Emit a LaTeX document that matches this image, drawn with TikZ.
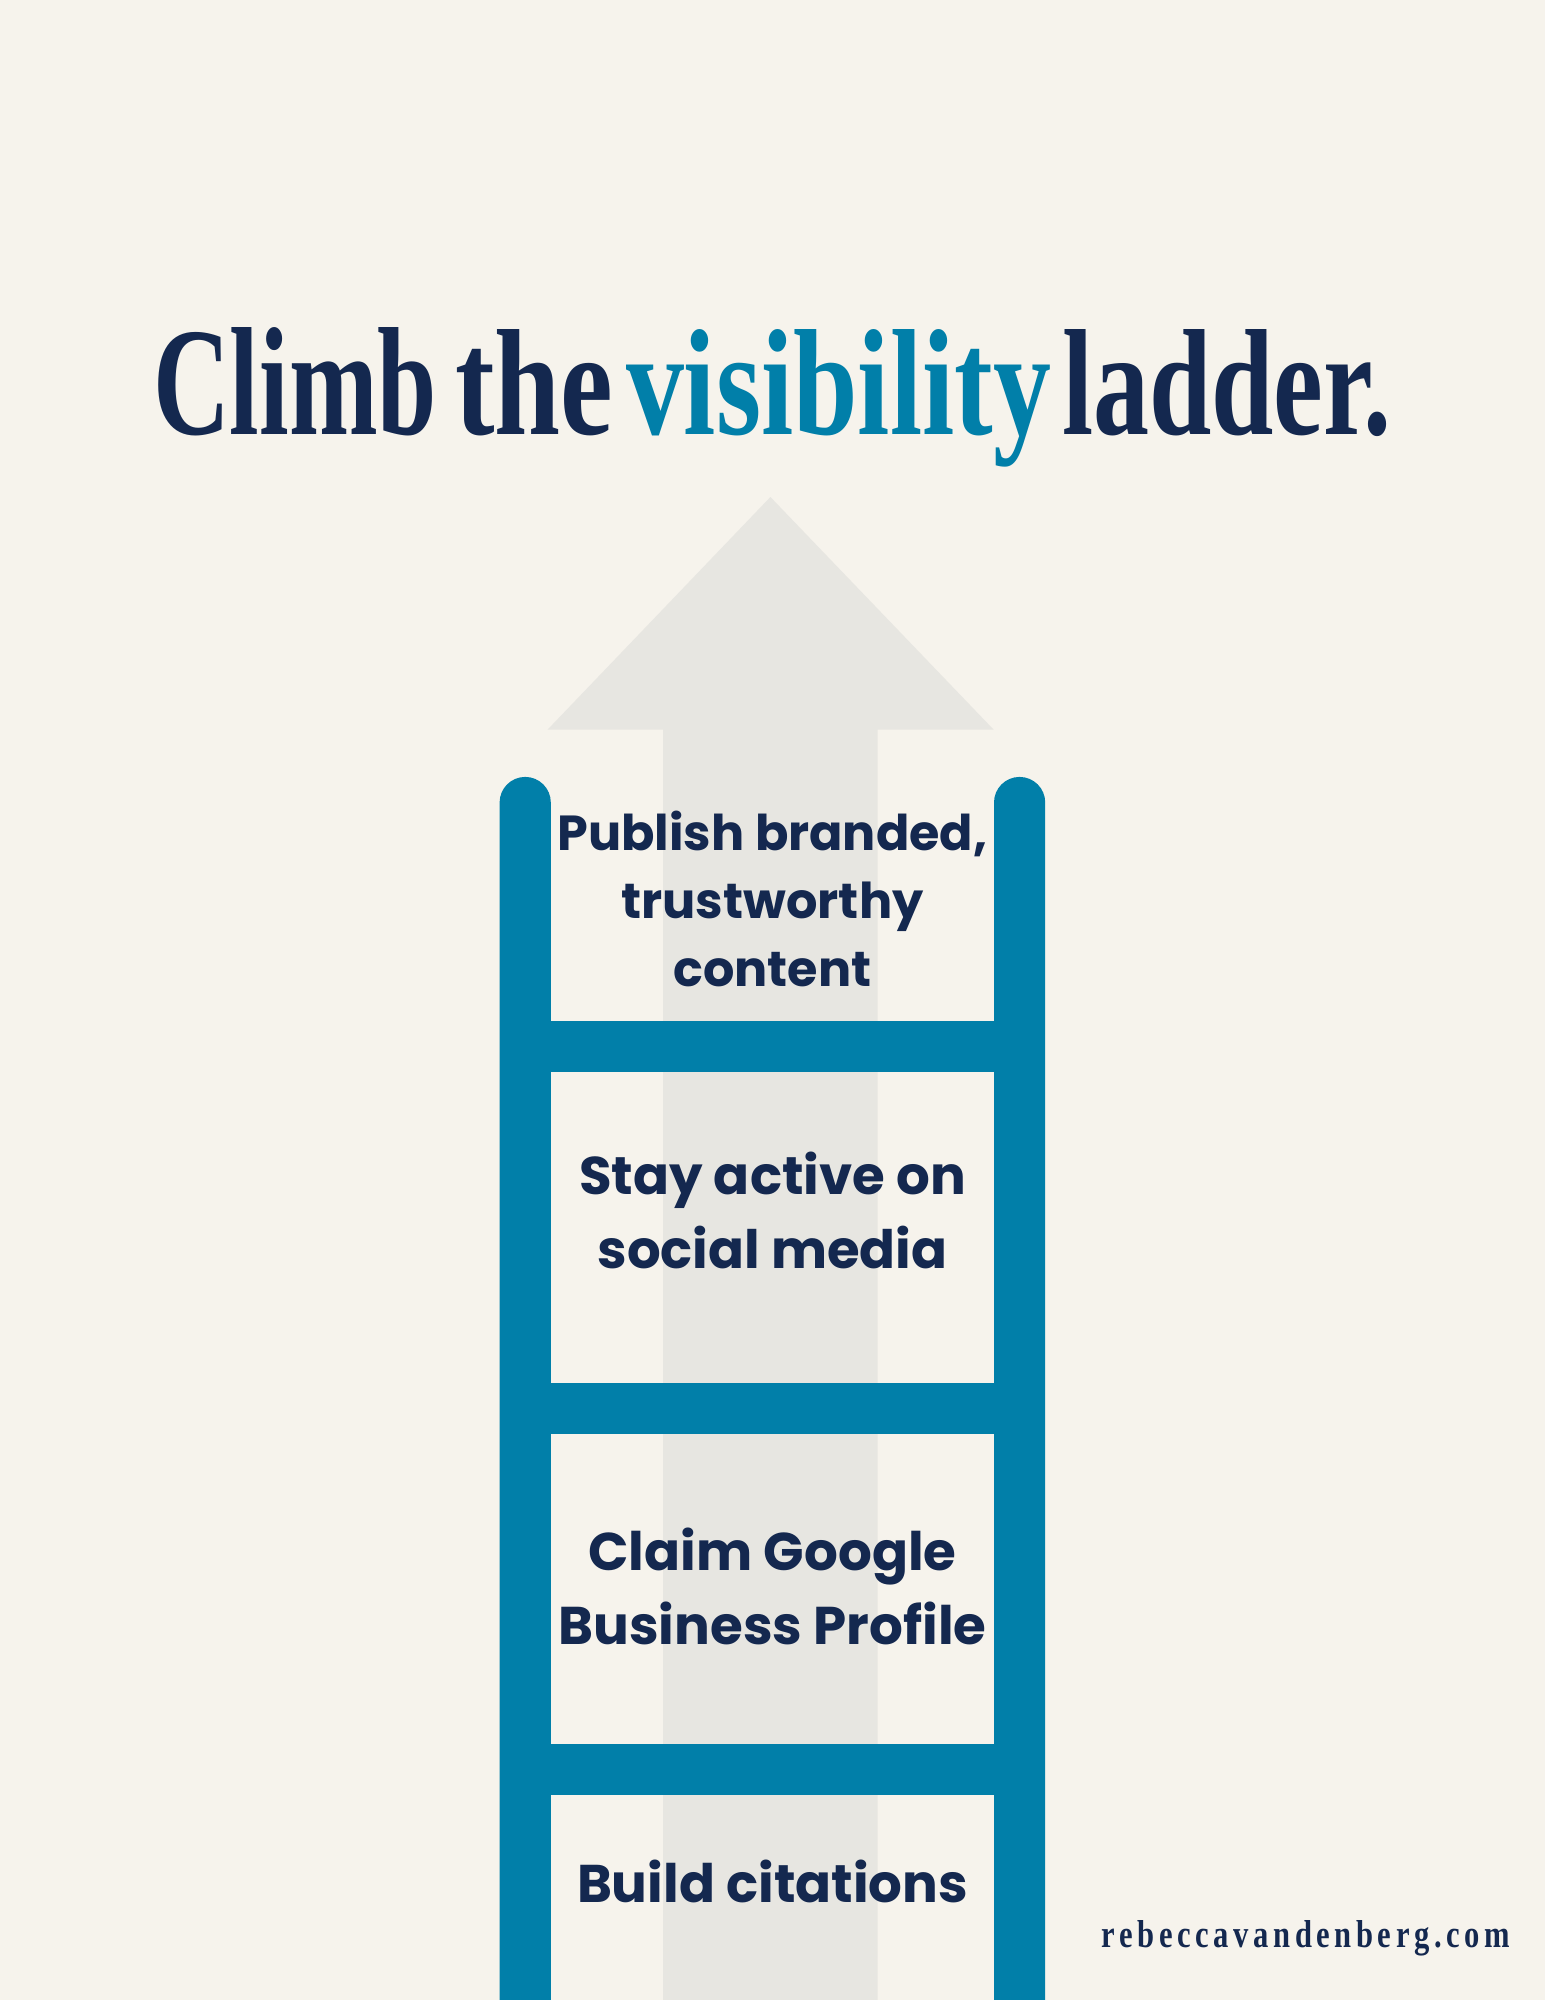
\documentclass[tikz,border=0pt]{standalone}
\usepackage{fontspec}
\usepackage{graphicx}
\setmainfont{Liberation Serif}
\newfontfamily\labelfont{Poppins}
\newfontfamily\footfont[LetterSpace=15]{Liberation Serif}
\definecolor{pagebg}{HTML}{F6F3EC}
\definecolor{arrowgrey}{HTML}{E7E6E1}
\definecolor{ladderblue}{HTML}{017FA9}
\definecolor{navy}{HTML}{14284F}
\tikzset{
  titletext/.style={anchor=base west,inner sep=0pt,outer sep=0pt,font=\fontsize{160}{160}\selectfont\bfseries},
  steplabel/.style={anchor=base,inner sep=0pt,outer sep=0pt,align=center,text=navy,font=\labelfont\fontsize{50}{70}\selectfont\bfseries},
  rail/.style={fill=ladderblue,draw=none},
}
\begin{document}
\begin{tikzpicture}[x=1pt,y=-1pt]
\useasboundingbox (0,0) rectangle (1545,2000);
\fill[pagebg] (0,0) rectangle (1545,2000);
% background arrow
\fill[arrowgrey] (770.4,497) -- (993.5,729.5) -- (877.7,729.5) -- (877.7,2000) -- (663,2000) -- (663,729.5) -- (547.7,729.5) -- cycle;
% rails
\fill[rail] (499.6,2000) -- (499.6,802.5) arc[start angle=180,end angle=360,radius=25.6] -- (550.8,2000) -- cycle;
\fill[rail] (994,2000) -- (994,802.5) arc[start angle=180,end angle=360,radius=25.6] -- (1045.2,2000) -- cycle;
% rungs
\fill[rail] (550,1021) rectangle (995,1071.5);
\fill[rail] (550,1383) rectangle (995,1433.5);
\fill[rail] (550,1744) rectangle (995,1795);
% title
\node[titletext,text=navy] (t1) at (153,434) {\resizebox{284pt}{107pt}{Climb}};
\node[titletext,text=navy] (t1b) at (455,434) {\resizebox{158pt}{105pt}{the}};
\node[titletext,text=ladderblue] (t2) at (626,434) {\resizebox{425pt}{105pt}{visibility}};
\node[titletext,text=navy] (t3) at (1062,434) {\resizebox{329pt}{105pt}{ladder.}};
% labels
\node[steplabel] (s4) at (772.5,850) {\resizebox{430pt}{!}{Publish branded,}};
\node[steplabel] (s4b) at (772.5,918.5) {\resizebox{302pt}{!}{trustworthy}};
\node[steplabel] (s4c) at (772.5,986.5) {\resizebox{198pt}{!}{content}};
\node[steplabel] (s3) at (772.5,1194) {\resizebox{387pt}{!}{Stay active on}};
\node[steplabel] (s3b) at (772.5,1268) {\resizebox{350pt}{!}{social media}};
\node[steplabel] (s2) at (772.5,1570.5) {\resizebox{368pt}{!}{Claim Google}};
\node[steplabel] (s2b) at (772.5,1644.5) {\resizebox{428pt}{!}{Business Profile}};
\node[steplabel] (s1) at (772.5,1902) {\resizebox{391pt}{!}{Build citations}};
% footer
\node[anchor=base west,inner sep=0pt,text=navy] (foot) at (1101.7,1947) {\resizebox{408pt}{27pt}{\footfont\bfseries rebeccavandenberg.com}};
\end{tikzpicture}
\end{document}
